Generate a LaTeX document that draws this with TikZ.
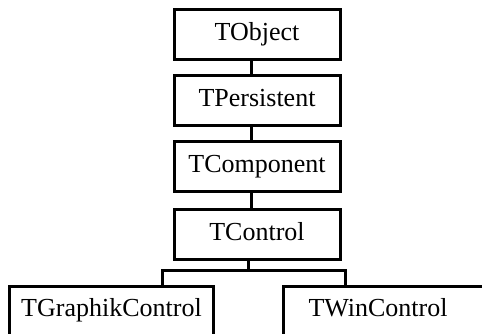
\documentclass[tikz,border=0pt]{standalone}
\usepackage{fontspec}
\setmainfont{Liberation Serif}
\usetikzlibrary{calc}

\begin{document}
\begin{tikzpicture}[x=1pt,y=1pt]
\useasboundingbox (0,0) rectangle (482,334);
\clip (0,0) rectangle (482,334);
\begin{scope}[every node/.style={rectangle,draw,line width=3pt,
              minimum width=166pt,minimum height=50pt,inner sep=0pt,
              text height=18pt,text depth=6pt,
              font=\fontsize{26}{30}\selectfont}]
    \node (obj) at (257,299) {TObject};
    \node (pers) at (257,233) {TPersistent};
    \node (comp) at (257,167) {TComponent};
    \node (ctrl) at (257,99) {TControl};
    \node[anchor=north west,minimum width=204pt,minimum height=60pt,
          text depth=18pt] (gfx) at (8,49) {TGraphikControl};
    \node[anchor=north west,minimum height=60pt,text depth=18pt,
          text width=200pt,align=left,inner xsep=25pt] (win) at (282,49) {TWinControl};

    \end{scope}

\coordinate (trunk) at (251,0);
\coordinate (fork) at (248,63);
\coordinate (gfxin) at (162,63);
\coordinate (winin) at (345,63);

\begin{scope}[every path/.style={draw=black,line width=3pt}]
    \draw (obj.south -| trunk) -- (pers.north -| trunk);
    \draw (pers.south -| trunk) -- (comp.north -| trunk);
    \draw (comp.south -| trunk) -- (ctrl.north -| trunk);
    \draw (ctrl.south -| fork) -- (fork);
    \draw (gfx.north -| gfxin) -- (gfxin) -- (winin) -- (win.north -| winin);

    \end{scope}

\end{tikzpicture}
\end{document}
